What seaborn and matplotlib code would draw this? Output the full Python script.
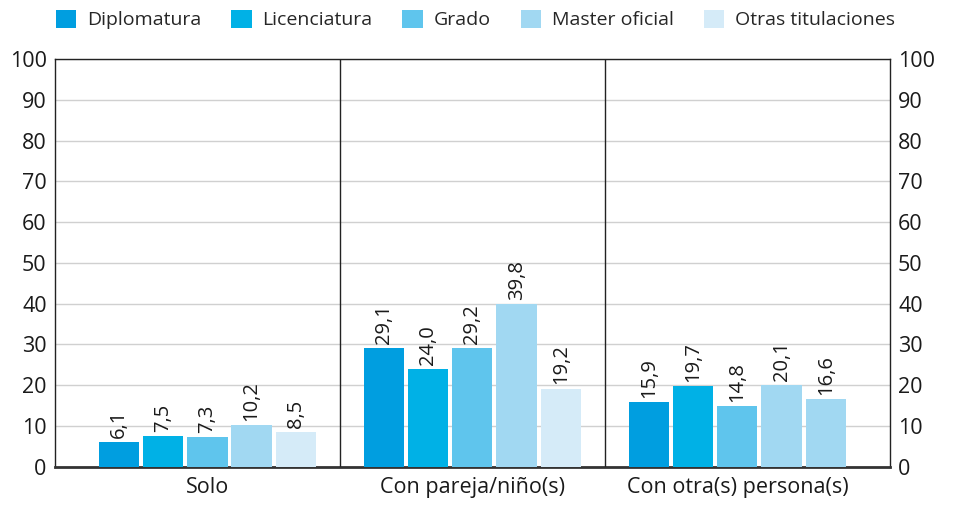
import matplotlib
matplotlib.use("Agg")
import matplotlib.pyplot as plt
import seaborn as sns
import pandas as pd
from matplotlib.patches import Patch

groups = ["Solo", "Con pareja/niño(s)", "Con otra(s) persona(s)"]
titulaciones = ["Diplomatura", "Licenciatura", "Grado", "Master oficial", "Otras titulaciones"]
solo = [6.1, 7.5, 7.3, 10.2, 8.5]
pareja = [29.1, 24.0, 29.2, 39.8, 19.2]
otras_personas = [15.9, 19.7, 14.8, 20.1, 16.6]
yticks = [0, 10, 20, 30, 40, 50, 60, 70, 80, 90, 100]

colors = ["#009ee0", "#00b1e6", "#5fc5ed", "#a1d8f2", "#d5ebf8"]

rows = []
for g, vals in zip(groups, [solo, pareja, otras_personas]):
    for t, v in zip(titulaciones, vals):
        rows.append({"grupo": g, "titulacion": t, "valor": v})
df = pd.DataFrame(rows)

sns.set_theme(style="white")
plt.rcParams["font.family"] = ["Open Sans", "DejaVu Sans"]

fig = plt.figure(figsize=(9.55, 5.08), dpi=100)
ax = fig.add_axes([0.0576, 0.081, 0.874, 0.803])

sns.barplot(data=df, x="grupo", y="valor", hue="titulacion", order=groups,
            hue_order=titulaciones, palette=colors, width=0.835, gap=0.09,
            saturation=1, linewidth=0, legend=False, ax=ax, zorder=3)

# last bar of the third group shares the Master oficial tone
ax.containers[4].patches[2].set_facecolor(colors[3])

for cont in ax.containers:
    for bar in cont.patches:
        bar.set_edgecolor("none")
        h = bar.get_height()
        ax.annotate(f"{h:.1f}".replace(".", ","),
                    (bar.get_x() + bar.get_width() / 2, h),
                    xytext=(0, 3), textcoords="offset points",
                    rotation=90, ha="center", va="bottom",
                    fontsize=14.5, color="#1a1a1a")

ax.set_ylim(0, 100)
ax.set_xlim(-0.575, 2.575)
ax.set_yticks(yticks)
ax.set_yticklabels([str(v) for v in yticks])
ax.set_xlabel("")
ax.set_ylabel("")
ax.yaxis.grid(True, color="#d0d0d0", linewidth=1, zorder=0)
ax.set_axisbelow(True)

for x in [0.5, 1.5]:
    ax.axvline(x, color="#222222", linewidth=1, zorder=4)

for side in ["left", "right", "top"]:
    ax.spines[side].set_color("#222222")
    ax.spines[side].set_linewidth(1)
ax.spines["bottom"].set_color("#333333")
ax.spines["bottom"].set_linewidth(2)

ax.tick_params(axis="both", length=0, labelsize=15.5, colors="#1a1a1a", pad=6)
ax.tick_params(axis="x", pad=7, labelsize=15.5)
ax.tick_params(axis="y", labelright=True, right=False)

handles = [Patch(facecolor=c, edgecolor="none") for c in colors]
fig.legend(handles, titulaciones, loc="upper left", bbox_to_anchor=(0.046, 1.004),
           ncol=5, frameon=False, fontsize=14, handlelength=1.05, handleheight=1.05,
           handletextpad=0.55, columnspacing=1.55, borderaxespad=0.2)

fig.savefig("out.png", dpi=100, facecolor="white")
